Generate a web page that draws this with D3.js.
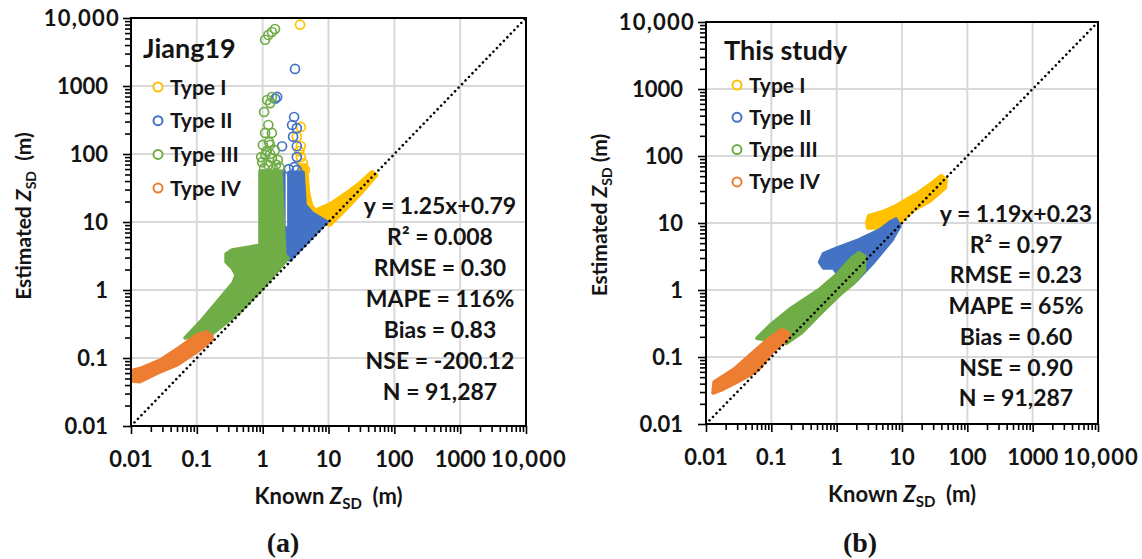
<!DOCTYPE html>
<html><head><meta charset="utf-8">
<script src="https://cdn.jsdelivr.net/npm/d3@7"></script>
<style>
body{margin:0;background:#fff;}
svg{display:block;}
text{font-family:Lato,"Open Sans",sans-serif;font-weight:bold;fill:#141414;white-space:pre;}
</style></head><body>
<svg id="chart" width="1142" height="559"></svg>
<script>
// ---------- categories / ticks ----------
const typeNames = ["Type I","Type II","Type III","Type IV"];
const tickValues = [0.01,0.1,1,10,100,1000,10000];
const tickLabels = ["0.01","0.1","1","10","100","1000","10,000"];

// ---------- Panel (a) Jiang19 : [known Zsd, estimated Zsd] ----------
// outlines of the dense (overlapping-marker) clouds
const aTypeIArea = [[3.7,69],[4.6,69],[5.0,26],[5.6,17],[6.4,15],[10.6,18.5],[17.9,26],[30.2,38],[46,55],[54,49],[32.4,27.6],[17.9,15],[10.6,9.04],[7.4,10],[5.63,13.1],[4.26,16.1],[3.8,29.4]];
const aTypeIIArea = [[2.5,54],[4.11,54],[4.41,17.8],[5.63,13.6],[9.53,10.0],[2.6,2.76],[2.11,2.95],[2.04,8.17],[2.5,8.17]];
const aTypeIIStrip = [[1.93,54],[2.1,54],[2.1,8.17],[1.93,8.17]];
const aTypeIIIArea = [[0.91,56],[1.9,56],[2.17,3.27],[2.43,2.95],[1.01,1.07],[0.452,0.474],[0.176,0.233],[0.066,0.197],[0.112,0.338],[0.203,0.667],[0.355,1.27],[0.394,1.66],[0.344,2.11],[0.278,2.58],[0.278,3.38],[0.344,3.87],[0.642,4.29],[0.91,4.59]];
const aTypeIVArea = [[0.0107,0.066],[0.0137,0.070],[0.0276,0.093],[0.0556,0.145],[0.1,0.218],[0.143,0.241],[0.17,0.211],[0.17,0.184],[0.1,0.123],[0.05,0.079],[0.025,0.060],[0.0137,0.0448],[0.0107,0.046]];
// scattered individual markers
const aTypeIPoints = [[3.7,7970],[3.8,250],[3.3,180],[3.8,130],[3.8,90],[4.1,73],[3.6,110],[4.4,58]];
const aTypeIIPoints = [[3.1,1780],[1.66,690],[1.55,650],[3.0,350],[3.3,240],[2.8,267],[1.97,130],[3.3,130],[3.3,90],[3.0,64],[2.9,180],[2.5,60],[3.3,58]];
const aTypeIIIPoints = [[1.09,4790],[1.22,5620],[1.38,6220],[1.54,6890],[1.17,622],[1.38,689],[1.3,560],[1.05,415],[1.22,267],[1.09,204],[1.38,204],[1.29,136],[1.01,136],[1.53,114],[1.1,97],[1.38,87],[0.98,76],[1.22,69],[1.7,82],[1.05,62],[1.45,60],[1.25,150],[1.15,110],[1.6,70],[0.95,90],[1.8,64],[1.3,100]];
const aStats = ["y = 1.25x+0.79","R\u00B2 = 0.008","RMSE = 0.30","MAPE = 116%","Bias = 0.83","NSE = -200.12","N = 91,287"];

// ---------- Panel (b) This study ----------
const bTypeIArea = [[2.9,10.4],[3.1,12.9],[5.28,15],[7.8,17.8],[16.4,27],[27,38],[39.8,51],[47.5,44],[46,33.3],[27,21.3],[15.3,15.6],[10,10.7],[7.8,9.0],[4.59,8.4],[2.98,8.4]];
const bTypeIIArea = [[0.547,2.62],[0.63,3.5],[1.0,4.2],[2.18,5.6],[4.59,7.9],[6.54,10.3],[8.08,11.4],[9.3,9.0],[7.0,5.57],[3.7,2.62],[2.03,1.41],[1.33,1.0],[1.11,1.0],[1.19,1.41],[0.9,2.13],[0.63,2.13]];
const bTypeIIIArea = [[0.06,0.19],[0.1,0.31],[0.203,0.54],[0.528,1.0],[1.0,1.7],[1.7,3.0],[2.2,3.6],[2.7,3.2],[2.65,1.95],[1.83,1.27],[1.19,0.9],[0.588,0.46],[0.29,0.23],[0.17,0.16]];
const bTypeIVArea = [[0.0133,0.0423],[0.027,0.066],[0.0547,0.122],[0.09,0.185],[0.143,0.258],[0.183,0.23],[0.183,0.192],[0.1,0.115],[0.063,0.064],[0.0345,0.0454],[0.017,0.0321],[0.0128,0.029]];
const bStats = ["y = 1.19x+0.23","R\u00B2 = 0.97","RMSE = 0.23","MAPE = 65%","Bias = 0.60","NSE = 0.90","N = 91,287"];

// ---------- styles ----------
const colors = ["#FFC000","#4472C4","#70AD47","#ED7D31"];

const panels = [
  {id:"a", title:"Jiang19", caption:"(a)", stats:aStats,
   areas:[[aTypeIArea],[aTypeIIArea,aTypeIIStrip],[aTypeIIIArea],[aTypeIVArea]],
   points:[aTypeIPoints,aTypeIIPoints,aTypeIIIPoints,[]],
   L:{left:131,right:526,top:18,bottom:426,titleX:143,titleY:58,legX:158,legY:87,legStep:33.7,
      statsX:440,statsY:214,statsStep:31,yTitleX:31,yTitleY:216,captionX:283}},
  {id:"b", title:"This study", caption:"(b)", stats:bStats,
   areas:[[bTypeIArea],[bTypeIIArea],[bTypeIIIArea],[bTypeIVArea]],
   points:[[],[],[],[]],
   L:{left:706,right:1098,top:22,bottom:424,titleX:724,titleY:60,legX:737,legY:85,legStep:32.3,
      statsX:1016,statsY:222,statsStep:30.7,yTitleX:607,yTitleY:215,captionX:860}}
];

const svg = d3.select("#chart");
const minor = [];
for (let e=-2;e<4;e++) for (let k=2;k<10;k++) minor.push(+(k*Math.pow(10,e)).toPrecision(3));

panels.forEach(p => {
  const L = p.L;
  const x = d3.scaleLog().domain([0.01,10000]).range([L.left,L.right]);
  const y = d3.scaleLog().domain([0.01,10000]).range([L.bottom,L.top]);
  const g = svg.append("g");

  // grid
  const inner = tickValues.slice(1,-1);
  g.append("g").selectAll("line").data(inner).join("line")
    .attr("x1",d=>x(d)).attr("x2",d=>x(d)).attr("y1",L.top).attr("y2",L.bottom)
    .attr("stroke","#d9d9d9").attr("stroke-width",2);
  g.append("g").selectAll("line").data(inner).join("line")
    .attr("y1",d=>y(d)).attr("y2",d=>y(d)).attr("x1",L.left).attr("x2",L.right)
    .attr("stroke","#d9d9d9").attr("stroke-width",2);

  // data
  g.append("clipPath").attr("id","clip-"+p.id).append("rect")
    .attr("x",L.left).attr("y",L.top).attr("width",L.right-L.left).attr("height",L.bottom-L.top);
  const dg = g.append("g").attr("clip-path",`url(#clip-${p.id})`);
  const line = d3.line().x(d=>x(d[0])).y(d=>y(d[1])).curve(d3.curveLinearClosed);
  for (let t=0;t<4;t++){
    p.areas[t].forEach(a => dg.append("path").attr("d",line(a))
      .attr("fill",colors[t]).attr("stroke",colors[t]).attr("stroke-width",3.5).attr("stroke-linejoin","round"));
    dg.append("g").selectAll("circle").data(p.points[t]).join("circle")
      .attr("cx",d=>x(d[0])).attr("cy",d=>y(d[1])).attr("r",4.5)
      .attr("fill","none").attr("stroke",colors[t]).attr("stroke-width",1.7);
  }
  // 1:1 line
  dg.append("line").attr("x1",x(0.01)).attr("y1",y(0.01)).attr("x2",x(10000)).attr("y2",y(10000))
    .attr("stroke","#000").attr("stroke-width",2.6).attr("stroke-dasharray","0.01 5").attr("stroke-linecap","round");

  // axes ticks
  const ax = (axis, tr) => {
    const a = g.append("g").attr("transform",tr).call(axis);
    a.select(".domain").remove();
    a.selectAll("line").attr("stroke","#000").attr("stroke-width",1.6);
  };
  ax(d3.axisLeft(y).tickValues(tickValues).tickSize(8).tickFormat(""), `translate(${L.left},0)`);
  ax(d3.axisLeft(y).tickValues(minor).tickSize(6).tickFormat(""), `translate(${L.left},0)`);
  ax(d3.axisBottom(x).tickValues(tickValues).tickSize(8).tickFormat(""), `translate(0,${L.bottom})`);
  ax(d3.axisBottom(x).tickValues(minor).tickSize(6).tickFormat(""), `translate(0,${L.bottom})`);

  // frame
  g.append("rect").attr("x",L.left).attr("y",L.top).attr("width",L.right-L.left).attr("height",L.bottom-L.top)
    .attr("fill","none").attr("stroke","#000").attr("stroke-width",2);

  // tick labels
  g.append("g").selectAll("text").data(tickValues).join("text")
    .attr("x",(d,i)=> i===6 ? L.left-11 : L.left-23).attr("y",d=>y(d)+7.5)
    .attr("text-anchor","end").attr("font-size",22)
    .attr("letter-spacing",(d,i)=> i===6 ? 1.2 : 0).text((d,i)=>tickLabels[i]);
  g.append("g").selectAll("text").data(tickValues).join("text")
    .attr("x",(d,i)=> x(d) + (i===6?3:0)).attr("y",L.bottom+41)
    .attr("text-anchor","middle").attr("font-size",22)
    .attr("letter-spacing",(d,i)=> i===6 ? 1.2 : 0).text((d,i)=>tickLabels[i]);

  // axis titles
  const xt = g.append("text").attr("x",(L.left+L.right)/2).attr("y",L.bottom+78)
    .attr("text-anchor","middle").attr("font-size",22);
  xt.append("tspan").text("Known ");
  xt.append("tspan").attr("font-style","italic").text("Z");
  xt.append("tspan").attr("font-size",15).attr("dy",5).text("SD");
  xt.append("tspan").attr("dy",-5).text("  (m)");

  const yt = g.append("text").attr("transform",`translate(${L.yTitleX},${L.yTitleY}) rotate(-90)`)
    .attr("text-anchor","middle").attr("font-size",21);
  yt.append("tspan").text("Estimated ");
  yt.append("tspan").attr("font-style","italic").text("Z");
  yt.append("tspan").attr("font-size",14).attr("dy",5).text("SD");
  yt.append("tspan").attr("dy",-5).text(p.id==="a" ? "  (m)" : " (m)");

  // legend
  g.append("text").attr("x",L.titleX).attr("y",L.titleY).attr("font-size",27).text(p.title);
  const lg = g.append("g").selectAll("g").data(typeNames).join("g");
  lg.append("circle").attr("cx",L.legX).attr("cy",(d,i)=>L.legY+i*L.legStep).attr("r",4.5)
    .attr("fill","#fff").attr("stroke",(d,i)=>colors[i]).attr("stroke-width",2);
  lg.append("text").attr("x",L.legX+12).attr("y",(d,i)=>L.legY+i*L.legStep+7.5)
    .attr("font-size",21).text(d=>d);

  // statistics
  g.append("g").selectAll("text").data(p.stats).join("text")
    .attr("x",L.statsX).attr("y",(d,i)=>L.statsY+i*L.statsStep)
    .attr("text-anchor","middle").attr("font-size",23).text(d=>d);

  // caption
  g.append("text").attr("x",L.captionX).attr("y",552).attr("text-anchor","middle")
    .style("font-family","'Liberation Serif','Times New Roman',serif").attr("font-size",28).text(p.caption);
});
</script>
</body></html>
